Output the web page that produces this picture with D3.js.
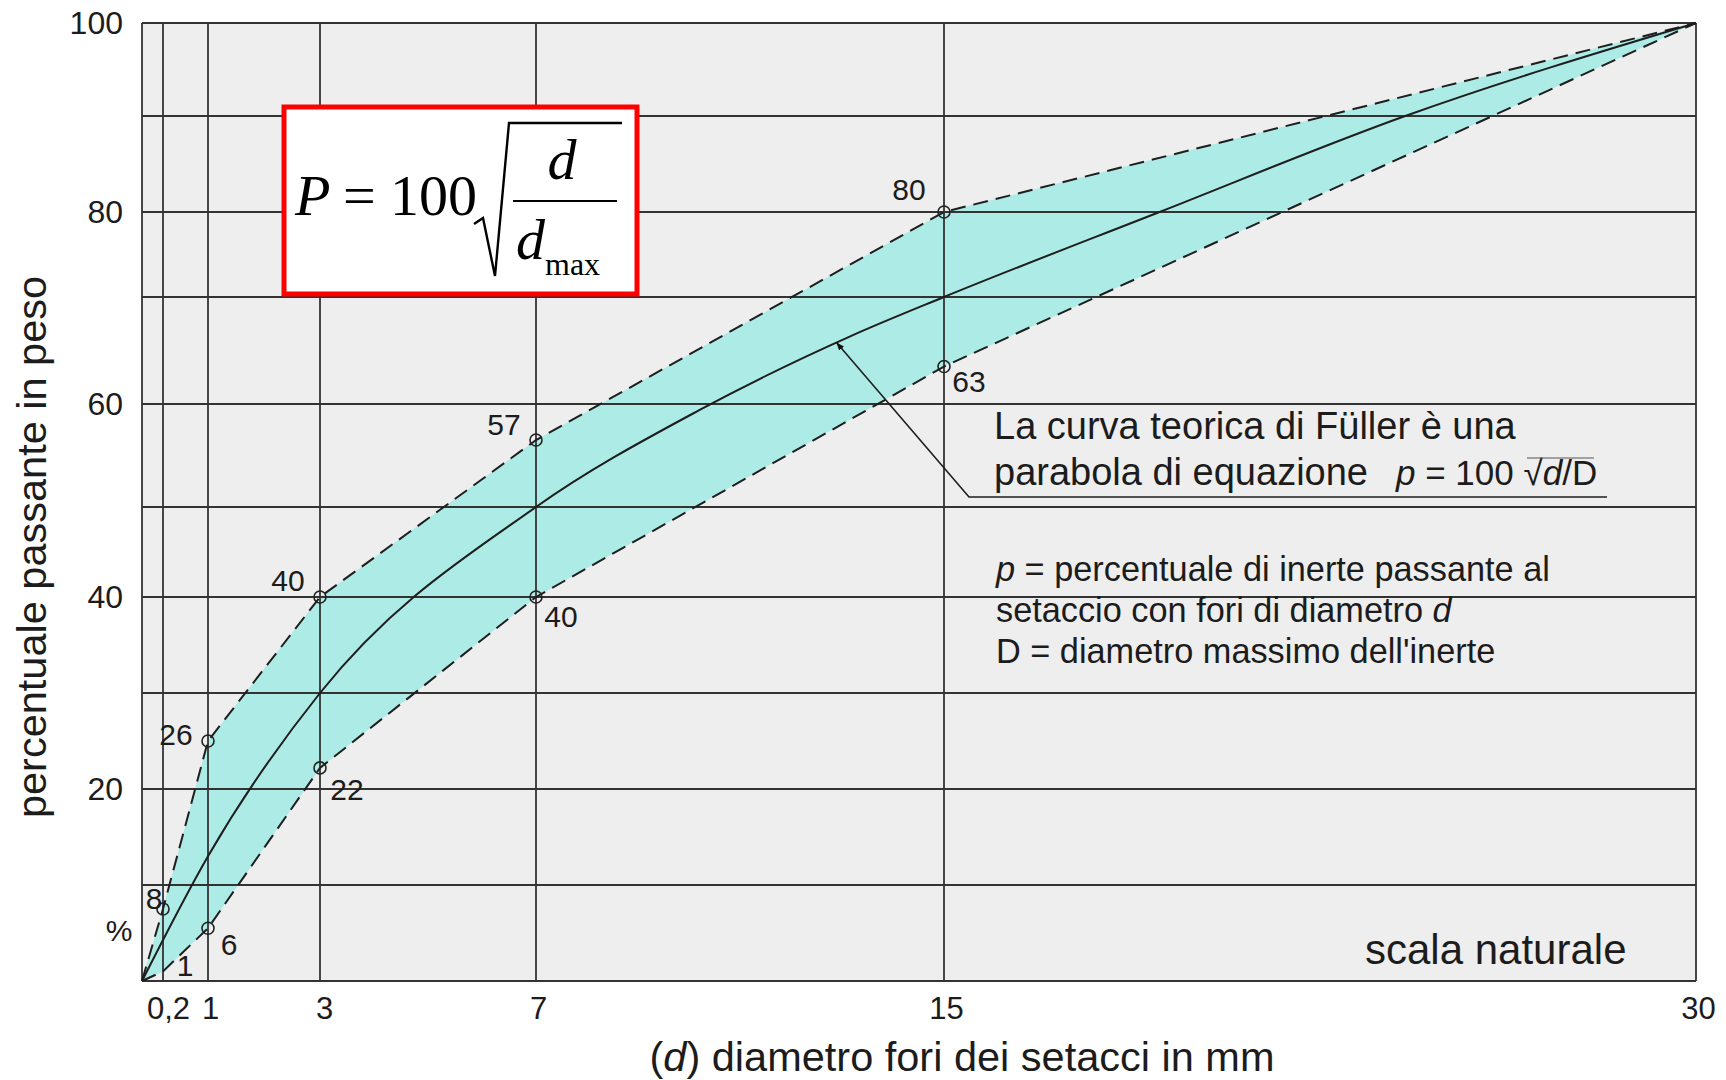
<!DOCTYPE html>
<html>
<head>
<meta charset="utf-8">
<script src="https://cdn.jsdelivr.net/npm/d3@7"></script>
<style>
  body { margin: 0; background: #fff; }
  text { font-family: "Liberation Sans", Arial, sans-serif; fill: #1c1c1c; }
  .serif { font-family: "Liberation Serif", "Times New Roman", serif; fill: #000; }
</style>
</head>
<body>
<div id="chart"></div>
<script>
// sieve sizes (mm) and percent gridlines
var diameters = [0, 0.2, 1, 3, 7, 15, 30];
var diameterLabels = ['', '0,2', '1', '3', '7', '15', '30'];
var percentGrid = [0, 10, 20, 30, 40, 50, 60, 70, 80, 90, 100];
var percentTicks = [20, 40, 60, 80, 100];

// grading band limits at each sieve (as drawn) and their printed labels
var upperLimit = [0, 7.5, 25, 40, 56.5, 80, 100];
var lowerLimit = [0, 1, 5.5, 22.2, 40, 63.5, 100];
var upperLabels = ['', '8', '26', '40', '57', '80', ''];
var lowerLabels = ['', '1', '6', '22', '40', '63', ''];
var lowerCircles = [false, false, true, true, true, true, false];

// Fuller curve, points
var fullerD = [0, 1, 3, 7, 10.2, 13.15, 15, 19.3, 24.2, 30];
var fullerP = [0, 13, 30, 50, 59.4, 66.3, 70, 80, 90, 100];

var width = 1726, height = 1080;

// the printed grid is not evenly spaced, so scales are calibrated on it
var xStops = [142, 163, 208, 320, 536, 944, 1696];
var yStops = [981, 885, 789, 693, 597, 507, 404, 297, 212, 116, 23];

var x = d3.scaleLinear().domain(diameters).range(xStops);
var y = d3.scaleLinear().domain(percentGrid).range(yStops);

var svg = d3.select('#chart').append('svg')
    .attr('width', width)
    .attr('height', height);

var defs = svg.append('defs');
defs.append('marker')
    .attr('id', 'arrow')
    .attr('viewBox', '0 0 10 10')
    .attr('refX', 9).attr('refY', 5)
    .attr('markerWidth', 8).attr('markerHeight', 8)
    .attr('orient', 'auto-start-reverse')
    .attr('markerUnits', 'userSpaceOnUse')
    .append('path')
    .attr('d', 'M0,1 L10,5 L0,9 z')
    .attr('fill', '#111');

// plot background
svg.append('rect')
    .attr('x', x(0)).attr('y', y(100))
    .attr('width', x(30) - x(0)).attr('height', y(0) - y(100))
    .attr('fill', '#eeeeee');

// band between limits
var band = diameters.map(function (d, i) {
    return {d: d, lo: lowerLimit[i], hi: upperLimit[i]};
});

svg.append('path')
    .datum(band)
    .attr('d', d3.area()
        .x(function (d) { return x(d.d); })
        .y0(function (d) { return y(d.lo); })
        .y1(function (d) { return y(d.hi); }))
    .attr('fill', '#acebe6');

// grid
var grid = svg.append('g').attr('stroke', '#333').attr('stroke-width', 1.8);
grid.selectAll('.hline')
    .data(percentGrid)
    .enter().append('line')
    .attr('x1', x(0)).attr('x2', x(30))
    .attr('y1', function (d) { return y(d); })
    .attr('y2', function (d) { return y(d); });
grid.selectAll('.vline')
    .data(diameters)
    .enter().append('line')
    .attr('y1', y(0)).attr('y2', y(100))
    .attr('x1', function (d) { return x(d); })
    .attr('x2', function (d) { return x(d); });

// limit lines (dashed)
var limitLine = function (vals) {
    return d3.line()
        .x(function (d, i) { return x(diameters[i]); })
        .y(function (d) { return y(d); })(vals);
};
[upperLimit, lowerLimit].forEach(function (vals) {
    svg.append('path')
        .attr('d', limitLine(vals))
        .attr('fill', 'none')
        .attr('stroke', '#1e1e1e')
        .attr('stroke-width', 2)
        .attr('stroke-dasharray', '15,8');
});

// Fuller curve
svg.append('path')
    .datum(fullerD.map(function (d, i) { return [d, fullerP[i]]; }))
    .attr('d', d3.line()
        .x(function (d) { return x(d[0]); })
        .y(function (d) { return y(d[1]); })
        .curve(d3.curveMonotoneX))
    .attr('fill', 'none')
    .attr('stroke', '#1e1e1e')
    .attr('stroke-width', 2);

// circles + value labels
var upperOff = [null, [-9, -11], [-32, -7], [-32, -17], [-32, -16], [-35, -23], null];
var lowerOff = [null, [22, -6], [21, 16], [27, 21], [25, 19], [25, 15], null];

function markPoints(vals, labels, offs, circles) {
    var pts = diameters.map(function (d, i) {
        return {d: d, v: vals[i], label: labels[i], off: offs[i], ring: circles[i]};
    }).filter(function (p) { return p.label !== ''; });

    svg.selectAll(null).data(pts.filter(function (p) { return p.ring; }))
        .enter().append('circle')
        .attr('cx', function (p) { return x(p.d); })
        .attr('cy', function (p) { return y(p.v); })
        .attr('r', 6)
        .attr('fill', 'none')
        .attr('stroke', '#222')
        .attr('stroke-width', 1.6);

    svg.selectAll(null).data(pts).enter().append('text')
        .attr('x', function (p) { return x(p.d) + p.off[0]; })
        .attr('y', function (p) { return y(p.v) + p.off[1]; })
        .attr('dy', '0.36em')
        .attr('text-anchor', 'middle')
        .style('font-size', '30px')
        .text(function (p) { return p.label; });
}
markPoints(upperLimit, upperLabels, upperOff, [false, true, true, true, true, true, false]);
markPoints(lowerLimit, lowerLabels, lowerOff, lowerCircles);

// axes labels
var xAxis = svg.append('g')
    .attr('transform', 'translate(0,' + y(0) + ')')
    .call(d3.axisBottom(x).tickValues(diameters).tickSize(0)
        .tickFormat(function (d, i) { return diameterLabels[i]; }));
xAxis.select('.domain').remove();
xAxis.selectAll('text')
    .attr('y', 16)
    .attr('dy', '0.71em')
    .attr('dx', function (d) { return d === 0.2 ? 5 : (d === 3 ? 4 : 2); })
    .style('font-size', '31px')
    .style('font-family', '"Liberation Sans", Arial, sans-serif')
    .attr('fill', '#1c1c1c');

var yAxis = svg.append('g')
    .attr('transform', 'translate(' + x(0) + ',0)')
    .call(d3.axisLeft(y).tickValues(percentTicks).tickSize(0));
yAxis.select('.domain').remove();
yAxis.selectAll('text')
    .attr('x', -19)
    .style('font-size', '32px')
    .style('font-family', '"Liberation Sans", Arial, sans-serif')
    .attr('fill', '#1c1c1c');

svg.append('text')
    .attr('x', 119).attr('y', 930).attr('dy', '0.36em')
    .attr('text-anchor', 'middle')
    .style('font-size', '30px')
    .text('%');

svg.append('text')
    .attr('transform', 'translate(46,547) rotate(-90)')
    .attr('text-anchor', 'middle')
    .style('font-size', '41.5px')
    .text('percentuale passante in peso');

var xTitle = svg.append('text')
    .attr('x', 962).attr('y', 1071)
    .attr('text-anchor', 'middle')
    .style('font-size', '41.5px');
xTitle.append('tspan').text('(');
xTitle.append('tspan').style('font-style', 'italic').text('d');
xTitle.append('tspan').text(') diametro fori dei setacci in mm');

svg.append('text')
    .attr('x', 1365).attr('y', 964)
    .style('font-size', '42px')
    .attr('fill', '#000')
    .text('scala naturale');

// annotation
var note = svg.append('g').style('font-size', '38px');
note.append('text').attr('x', 994).attr('y', 439).text('La curva teorica di Füller è una');
note.append('text').attr('x', 994).attr('y', 485).text('parabola di equazione');
var eq = note.append('text').attr('x', 1396).attr('y', 485).style('font-size', '35px');
eq.append('tspan').style('font-style', 'italic').text('p');
eq.append('tspan').text(' = 100 ');
eq.append('tspan').text('√');
eq.append('tspan').style('font-style', 'italic').text('d');
eq.append('tspan').text('/D');
svg.append('line')
    .attr('x1', 1527).attr('x2', 1594).attr('y1', 458).attr('y2', 458)
    .attr('stroke', '#555').attr('stroke-width', 1.2);

var tipD = 12.9, tipP = 65.7;
svg.append('polyline')
    .attr('points', [[1607, 497], [969, 497], [x(tipD), y(tipP)]].join(' '))
    .attr('fill', 'none')
    .attr('stroke', '#1e1e1e')
    .attr('stroke-width', 1.6)
    .attr('marker-end', 'url(#arrow)');

var defsText = svg.append('g').style('font-size', '34.3px');
var l1 = defsText.append('text').attr('x', 996).attr('y', 581);
l1.append('tspan').style('font-style', 'italic').text('p');
l1.append('tspan').text(' = percentuale di inerte passante al');
var l2 = defsText.append('text').attr('x', 996).attr('y', 622);
l2.append('tspan').text('setaccio con fori di diametro ');
l2.append('tspan').style('font-style', 'italic').text('d');
defsText.append('text').attr('x', 996).attr('y', 663).text('D = diametro massimo dell\'inerte');

// formula box
var fbox = svg.append('g');
fbox.append('rect')
    .attr('x', 284).attr('y', 107).attr('width', 353).attr('height', 187)
    .attr('fill', '#fff').attr('stroke', '#ff0000').attr('stroke-width', 5);
fbox.append('text').attr('class', 'serif').attr('x', 295).attr('y', 215)
    .style('font-size', '58px').style('font-style', 'italic').text('P');
fbox.append('text').attr('class', 'serif').attr('x', 343).attr('y', 215)
    .style('font-size', '58px').text('=');
fbox.append('text').attr('class', 'serif').attr('x', 390).attr('y', 215)
    .style('font-size', '58px').text('100');
fbox.append('path')
    .attr('d', 'M474,224 L483,218 L495,276 L509,123 L622,123')
    .attr('fill', 'none').attr('stroke', '#000').attr('stroke-width', 2.4)
    .attr('stroke-linejoin', 'miter');
fbox.append('line')
    .attr('x1', 513).attr('x2', 617).attr('y1', 201).attr('y2', 201)
    .attr('stroke', '#000').attr('stroke-width', 2.2);
fbox.append('text').attr('class', 'serif').attr('x', 562).attr('y', 179)
    .attr('text-anchor', 'middle')
    .style('font-size', '58px').style('font-style', 'italic').text('d');
var den = fbox.append('text').attr('class', 'serif').attr('x', 516).attr('y', 259)
    .style('font-size', '58px');
den.append('tspan').style('font-style', 'italic').text('d');
den.append('tspan').attr('dy', 16).style('font-size', '32px').text('max');
</script>
</body>
</html>
